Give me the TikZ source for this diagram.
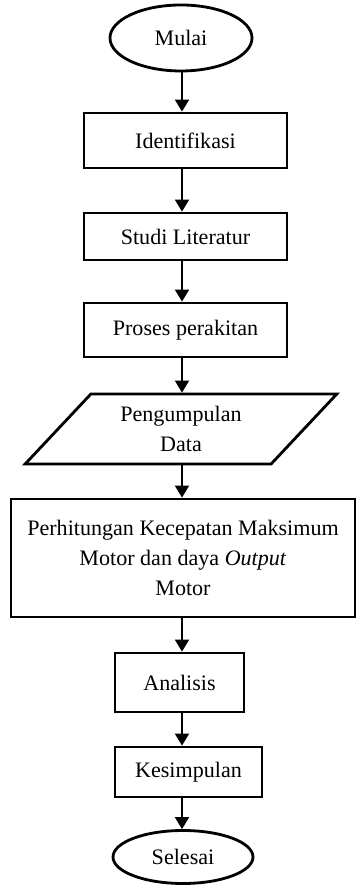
\documentclass[tikz,border=0pt]{standalone}
\usepackage{fontspec}
\setmainfont{Liberation Serif}
\usetikzlibrary{arrows.meta,shapes.geometric}

\begin{document}
\begin{tikzpicture}[
  line width=2pt,
  txt/.style={align=center,font=\fontsize{15.7}{21.3}\selectfont},
  box/.style={txt,draw,rectangle,inner sep=2pt},
  term/.style={txt,draw,ellipse,inner sep=0pt},
  io/.style={txt,draw,trapezium,trapezium left angle=49,trapezium right angle=131,trapezium stretches=true},
  arr/.style={line width=1.4pt,-{Triangle[length=0.3cm,width=0.35cm]}}
]
\useasboundingbox (0,0) rectangle (8.925,22.175);
\coordinate (axis) at (4.55,0);

\node[term,minimum width=3.55cm,minimum height=1.65cm] (mulai) at (4.525,21.225) {Mulai};
\node[box,minimum width=5.075cm,minimum height=1.375cm] (iden) at (4.6375,18.6625) {Identifikasi};
\node[box,minimum width=5.075cm,minimum height=1.175cm] (studi) at (4.6375,16.2625) {Studi Literatur};
\node[box,minimum width=5.075cm,minimum height=1.35cm] (proses) at (4.6375,13.925) {Proses perakitan};
\node[io,minimum width=7.8cm,minimum height=1.75cm] (data) at (4.525,11.45) {Pengumpulan\\Data};
\node[box,minimum width=8.6cm,minimum height=2.95cm] (hitung) at (4.575,8.225) {Perhitungan Kecepatan Maksimum\\Motor dan daya \textit{Output}\\Motor};
\node[box,minimum width=3.225cm,minimum height=1.475cm] (analisis) at (4.4875,5.1125) {Analisis};
\node[box,minimum width=3.675cm,minimum height=1.25cm] (kesim) at (4.7125,2.875) {Kesimpulan};
\node[term,minimum width=3.5cm,minimum height=1.325cm] (selesai) at (4.575,0.75) {Selesai};

\draw[arr] (axis |- mulai.south) -- (axis |- iden.north);
\draw[arr] (axis |- iden.south) -- (axis |- studi.north);
\draw[arr] (axis |- studi.south) -- (axis |- proses.north);
\draw[arr] (axis |- proses.south) -- (axis |- data.north);
\draw[arr] (axis |- data.south) -- (axis |- hitung.north);
\draw[arr] (axis |- hitung.south) -- (axis |- analisis.north);
\draw[arr] (axis |- analisis.south) -- (axis |- kesim.north);
\draw[arr] (axis |- kesim.south) -- (axis |- selesai.north);
\end{tikzpicture}
\end{document}
